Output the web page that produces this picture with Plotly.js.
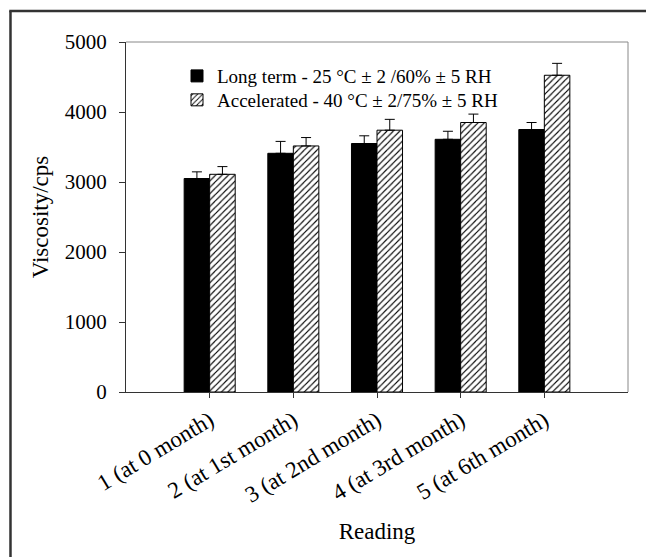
<!DOCTYPE html>
<html>
<head>
<meta charset="utf-8">
<script src="https://cdn.plot.ly/plotly-3.0.1.min.js"></script>
<style>
html,body{margin:0;padding:0;background:#fff;}
#chart{width:646px;height:557px;}
</style>
</head>
<body>
<div id="chart"></div>
<script>
const categories = ["1 (at 0 month)", "2 (at 1st month)", "3 (at 2nd month)", "4 (at 3rd month)", "5 (at 6th month)"];
const longTermValues = [3050, 3410, 3550, 3610, 3750];
const longTermErrors = [95, 170, 110, 115, 100];
const acceleratedValues = [3110, 3515, 3740, 3850, 4525];
const acceleratedErrors = [110, 120, 155, 120, 170];
const seriesNames = ["Long term - 25 °C ± 2 /60% ± 5 RH", "Accelerated - 40 °C ± 2/75% ± 5 RH"];
const yTicks = [0, 1000, 2000, 3000, 4000, 5000];

const FONT = "Liberation Serif, Times New Roman, serif";

const traces = [
  {
    type: "bar",
    name: seriesNames[0],
    legend: "legend",
    x: categories,
    y: longTermValues,
    marker: {color: "#000000", line: {color: "#000000", width: 1}},
    error_y: {type: "data", symmetric: false, array: longTermErrors,
              arrayminus: longTermErrors.map(() => 0),
              color: "#000000", thickness: 1, width: 5}
  },
  {
    type: "bar",
    name: seriesNames[1],
    legend: "legend2",
    x: categories,
    y: acceleratedValues,
    marker: {color: "#ffffff", line: {color: "#000000", width: 1},
             pattern: {shape: "/", fgcolor: "#000000", bgcolor: "#ffffff", size: 4.5, solidity: 0.25}},
    error_y: {type: "data", symmetric: false, array: acceleratedErrors,
              arrayminus: acceleratedErrors.map(() => 0),
              color: "#000000", thickness: 1, width: 5}
  }
];

const legendCommon = {
  xanchor: "left", yanchor: "top",
  bgcolor: "rgba(0,0,0,0)", borderwidth: 0,
  font: {family: FONT, size: 19, color: "#000000"}
};

const layout = {
  width: 646, height: 557,
  margin: {l: 126, r: 18, t: 42, b: 165},
  paper_bgcolor: "#ffffff", plot_bgcolor: "#ffffff",
  font: {family: FONT, color: "#000000", size: 21},
  barmode: "group",
  bargap: 0.39,
  bargroupgap: 0,
  showlegend: true,
  legend: Object.assign({x: 0.1016, y: 0.957}, legendCommon),
  legend2: Object.assign({x: 0.1016, y: 0.8886}, legendCommon),
  xaxis: {
    type: "category",
    range: [-1, 5],
    showline: true, linecolor: "#333333", linewidth: 1,
    ticks: "outside", ticklen: 5, tickcolor: "#333333", tickwidth: 1,
    tickangle: -31,
    tickfont: {family: FONT, size: 23, color: "#000000"},
    showgrid: false, zeroline: false,
    title: {text: "Reading", font: {family: FONT, size: 23, color: "#000000"}, standoff: 16}
  },
  yaxis: {
    range: [0, 5000],
    tickvals: yTicks,
    ticktext: yTicks.map(String),
    showline: true, linecolor: "#333333", linewidth: 1,
    ticks: "outside", ticklen: 6, tickcolor: "#333333", tickwidth: 1,
    tickfont: {family: FONT, size: 21, color: "#000000"},
    ticklabelstandoff: 8,
    showgrid: false, zeroline: false,
    title: {text: "Viscosity/cps", font: {family: FONT, size: 23, color: "#000000"}, standoff: 9}
  },
  shapes: [
    {type: "line", xref: "paper", yref: "paper", x0: 0, x1: 1, y0: 1, y1: 1,
     line: {color: "#888888", width: 1}},
    {type: "line", xref: "paper", yref: "paper", x0: 1, x1: 1, y0: 0, y1: 1,
     line: {color: "#888888", width: 1}},
    {type: "line", xref: "paper", yref: "paper", x0: -0.2301, x1: -0.2301, y0: -0.5, y1: 1.0886,
     line: {color: "#333333", width: 2.5}},
    {type: "line", xref: "paper", yref: "paper", x0: -0.2326, x1: 1.05, y0: 1.0886, y1: 1.0886,
     line: {color: "#333333", width: 2.5}}
  ]
};

Plotly.newPlot("chart", traces, layout, {displayModeBar: false, staticPlot: true});
</script>
</body>
</html>
